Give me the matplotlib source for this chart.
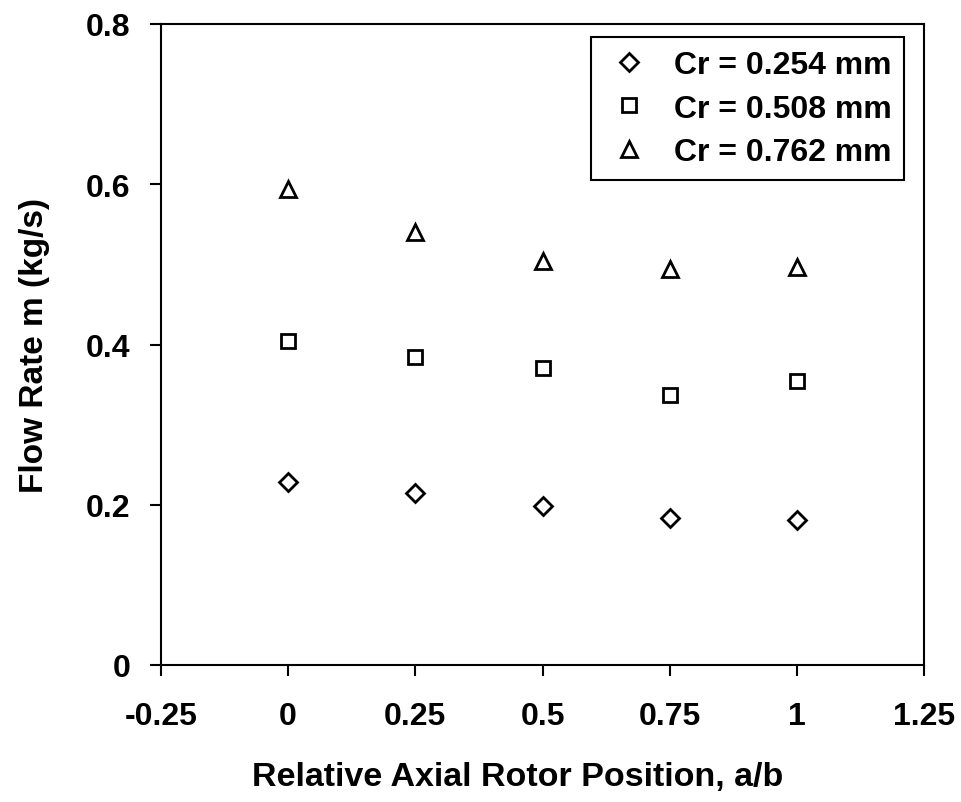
import matplotlib
matplotlib.use("Agg")
import matplotlib.pyplot as plt

positions = [0, 0.25, 0.5, 0.75, 1.0]
cr_0254 = [0.228, 0.215, 0.198, 0.184, 0.181]
cr_0508 = [0.404, 0.384, 0.371, 0.337, 0.355]
cr_0762 = [0.594, 0.540, 0.504, 0.494, 0.497]
labels = ["Cr = 0.254 mm", "Cr = 0.508 mm", "Cr = 0.762 mm"]
xticks = [-0.25, 0, 0.25, 0.5, 0.75, 1, 1.25]
xticklabels = ["-0.25", "0", "0.25", "0.5", "0.75", "1", "1.25"]
yticks = [0, 0.2, 0.4, 0.6, 0.8]
yticklabels = ["0", "0.2", "0.4", "0.6", "0.8"]

plt.rcParams['font.family'] = ['Liberation Sans', 'DejaVu Sans']
plt.rcParams['font.weight'] = 'bold'

fig = plt.figure(figsize=(9.61, 8.03), dpi=100)
ax = fig.add_axes([161/961, 1-666/803, (924-161)/961, (666-25)/803])

mk = dict(linestyle='none', markerfacecolor='white', markeredgecolor='black', markeredgewidth=2.0)
ax.plot(positions, cr_0254, marker='D', markersize=9, label=labels[0], **mk)
ax.plot(positions, cr_0508, marker='s', markersize=10, label=labels[1], **mk)
ax.plot(positions, cr_0762, marker='^', markersize=12, label=labels[2], **mk)

ax.set_xlim(-0.25, 1.25)
ax.set_ylim(0, 0.8)
ax.set_xticks(xticks)
ax.set_xticklabels(xticklabels)
ax.set_yticks(yticks)
ax.set_yticklabels(yticklabels)
ax.tick_params(axis='both', direction='out', length=8, width=1.5, labelsize=23)
ax.tick_params(axis='x', pad=18)
ax.tick_params(axis='y', pad=14)
for s in ax.spines.values():
    s.set_linewidth(1.5)

ax.set_xlabel("Relative Axial Rotor Position, a/b", fontsize=24.5, fontweight='bold')
ax.xaxis.set_label_coords(0.468, -0.149)
ax.set_ylabel("Flow Rate m (kg/s)", fontsize=24, fontweight='bold', labelpad=26)

leg = ax.legend(loc='upper right', bbox_to_anchor=(0.974, 0.979), borderaxespad=0,
                fontsize=23, frameon=True, fancybox=False, edgecolor='black', framealpha=1,
                handletextpad=0.6, borderpad=0.4, labelspacing=0.42, handlelength=1.6)
leg.get_frame().set_linewidth(1.5)

fig.savefig("out.png", dpi=100)
